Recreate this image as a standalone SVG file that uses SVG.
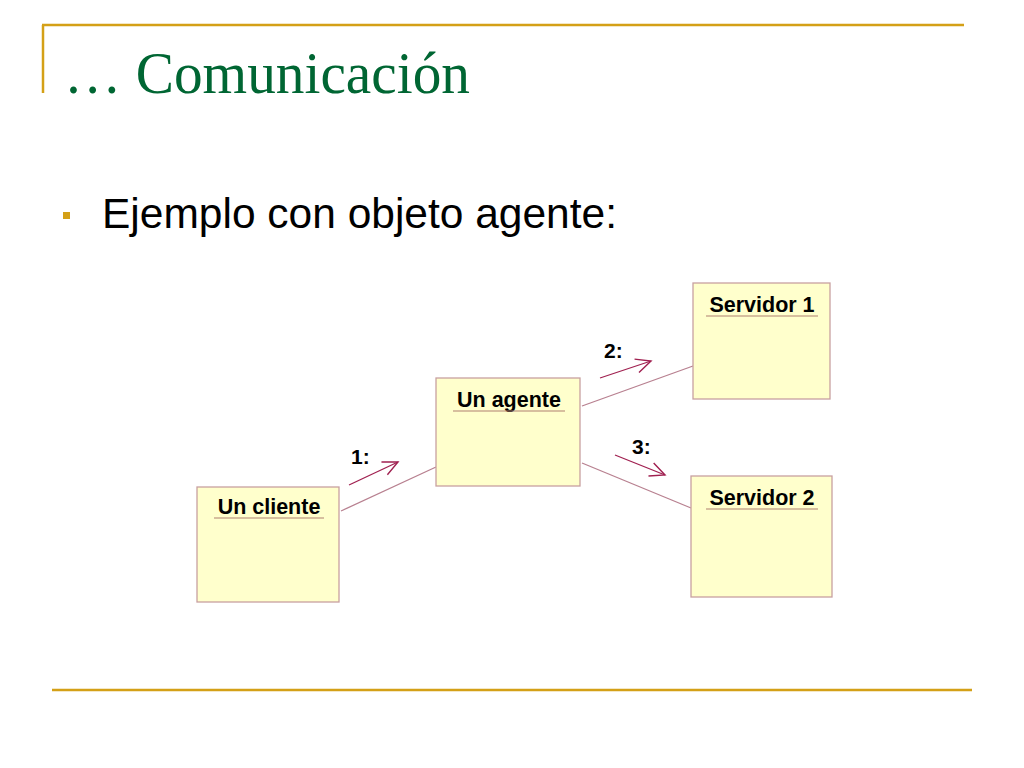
<svg xmlns="http://www.w3.org/2000/svg" width="1024" height="768" viewBox="0 0 1024 768">
<defs>
<style>
.rule{stroke:#d4a017;stroke-width:2.5;fill:none}
.box{fill:#ffffcc;stroke:#c8a0a0;stroke-width:1.3}
.lbl{font-family:"Liberation Sans",Arial,sans-serif;font-weight:bold;font-size:21.5px;fill:#000;text-anchor:middle}
.ul{stroke:#b08070;stroke-width:1.2}
.link{stroke:#b88090;stroke-width:1.3;fill:none}
.msg{stroke:#a02050;stroke-width:1.3;fill:none;marker-end:url(#open)}
.num{font-family:"Liberation Sans",Arial,sans-serif;font-weight:bold;font-size:21px;fill:#000}
</style>
<marker id="open" markerWidth="18" markerHeight="18" refX="16" refY="8" orient="auto" markerUnits="userSpaceOnUse">
<polyline points="1,1 16,8 1,15" fill="none" stroke="#a02050" stroke-width="1.4"/>
</marker>
</defs>
<rect width="1024" height="768" fill="#fff"/>
<g id="frame">
<line class="rule" x1="42" y1="25" x2="964" y2="25"/>
<line class="rule" x1="43" y1="25" x2="43" y2="93"/>
<line class="rule" x1="52" y1="690" x2="972" y2="690"/>
</g>
<text x="64" y="93" font-family="Liberation Serif,Times New Roman,serif" font-size="60" fill="#006633" textLength="406" lengthAdjust="spacingAndGlyphs">… Comunicación</text>
<rect x="63" y="212" width="7" height="7" fill="#d4a017"/>
<text x="102" y="228" font-family="Liberation Sans,Arial,sans-serif" font-size="42" fill="#000" textLength="515" lengthAdjust="spacingAndGlyphs">Ejemplo con objeto agente:</text>
<g id="connectors">
<line class="link" x1="341" y1="511" x2="436" y2="467"/>
<line class="link" x1="582" y1="406" x2="693" y2="366"/>
<line class="link" x1="582" y1="463" x2="691" y2="508"/>
<line class="msg" x1="349" y1="485" x2="398" y2="462"/>
<line class="msg" x1="600" y1="378" x2="651" y2="361"/>
<line class="msg" x1="615" y1="455" x2="665" y2="475"/>
<text class="num" x="351" y="464">1:</text>
<text class="num" x="604" y="358">2:</text>
<text class="num" x="632" y="454">3:</text>
</g>
<g id="cliente">
<rect class="box" x="197" y="487" width="142" height="115"/>
<text class="lbl" x="269" y="514">Un cliente</text>
<line class="ul" x1="214" y1="518" x2="324" y2="518"/>
</g>
<g id="agente">
<rect class="box" x="436" y="378" width="144" height="108"/>
<text class="lbl" x="509" y="407">Un agente</text>
<line class="ul" x1="453" y1="411" x2="565" y2="411"/>
</g>
<g id="servidor1">
<rect class="box" x="693" y="283" width="137" height="116"/>
<text class="lbl" x="762" y="312">Servidor 1</text>
<line class="ul" x1="706" y1="316" x2="818" y2="316"/>
</g>
<g id="servidor2">
<rect class="box" x="691" y="476" width="141" height="121"/>
<text class="lbl" x="762" y="505">Servidor 2</text>
<line class="ul" x1="706" y1="509" x2="818" y2="509"/>
</g>
</svg>
